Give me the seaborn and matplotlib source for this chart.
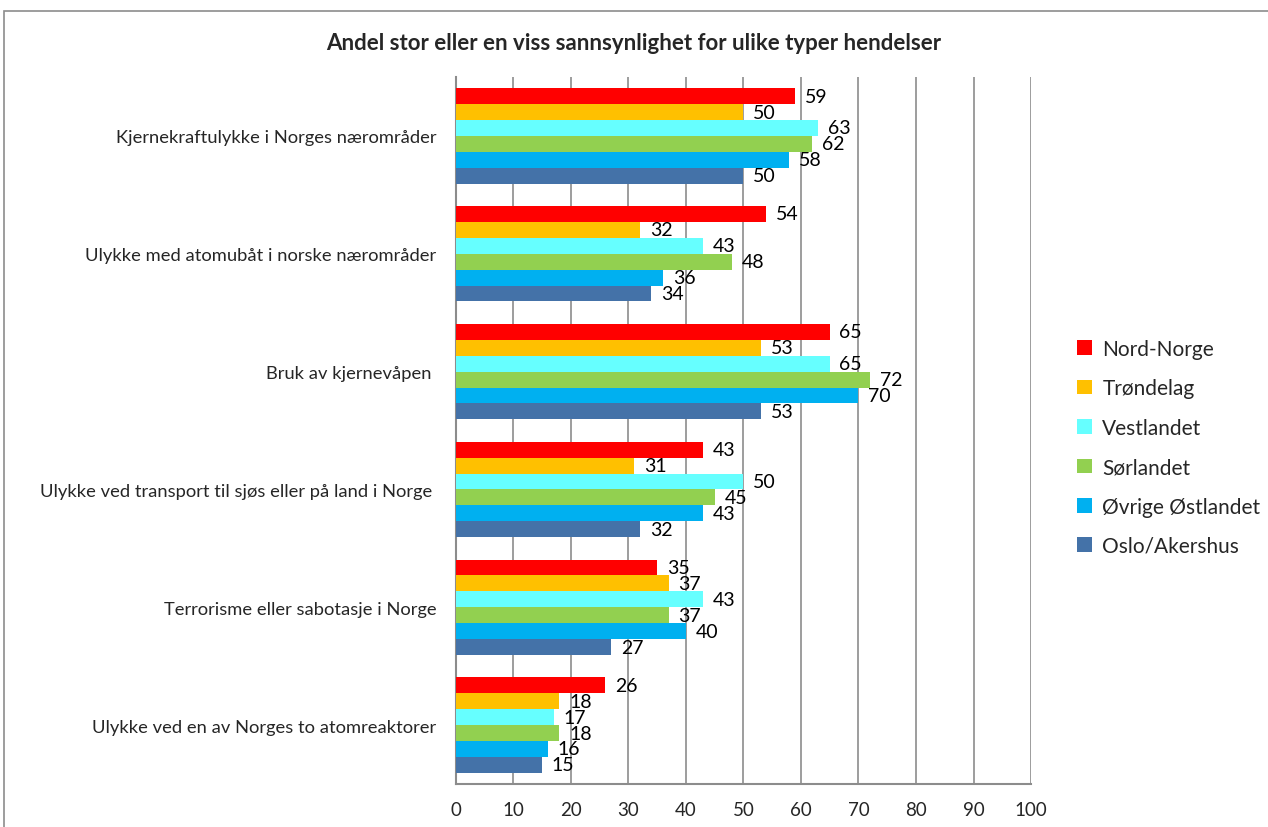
import matplotlib
matplotlib.use("Agg")
import matplotlib.pyplot as plt
from matplotlib.patches import Rectangle
import pandas as pd
import seaborn as sns

# ---------------------------------------------------------------------------
# Data
# ---------------------------------------------------------------------------
EVENTS = [
    "Kjernekraftulykke i Norges nærområder",
    "Ulykke med atomubåt i norske nærområder",
    "Bruk av kjernevåpen ",
    "Ulykke ved transport til sjøs eller på land i Norge ",
    "Terrorisme eller sabotasje i Norge",
    "Ulykke ved en av Norges to atomreaktorer",
]
REGIONS = ["Nord-Norge", "Trøndelag", "Vestlandet", "Sørlandet",
           "Øvrige Østlandet", "Oslo/Akershus"]

nord_norge = [59, 54, 65, 43, 35, 26]
trondelag = [50, 32, 53, 31, 37, 18]
vestlandet = [63, 43, 65, 50, 43, 17]
sorlandet = [62, 48, 72, 45, 37, 18]
ovrige_ostlandet = [58, 36, 70, 43, 40, 16]
oslo_akershus = [50, 34, 53, 32, 27, 15]

COLORS = ["#FF0000", "#FFC000", "#66FFFF", "#92D050", "#00B0F0", "#4472A8"]

series = [nord_norge, trondelag, vestlandet, sorlandet,
          ovrige_ostlandet, oslo_akershus]
rows = []
for region, vals in zip(REGIONS, series):
    for event, v in zip(EVENTS, vals):
        rows.append({"event": event, "region": region, "value": v})
df = pd.DataFrame(rows)

# ---------------------------------------------------------------------------
# Plot
# ---------------------------------------------------------------------------
sns.set_style("white")
plt.rcParams["font.family"] = ["Lato", "DejaVu Sans"]

fig = plt.figure(figsize=(12.68, 8.28), dpi=100)
ax = fig.add_axes([0.3596, 0.0519, 0.8131 - 0.3596, 0.9058 - 0.0519])

sns.barplot(
    data=df, x="value", y="event", hue="region",
    order=EVENTS, hue_order=REGIONS, palette=COLORS,
    saturation=1, width=0.81, gap=0, errorbar=None, ax=ax, zorder=3,
    linewidth=0,
)

for cont in ax.containers:
    ax.bar_label(cont, fmt="%d", padding=7, fontsize=14, color="black")

ax.set_xlim(0, 100)
ax.set_ylim(len(EVENTS) - 0.5, -0.5)
ax.set_xticks(range(0, 101, 10))
ax.xaxis.grid(True, color="#8c8c8c", linewidth=1.2, zorder=0)
ax.set_axisbelow(True)
ax.tick_params(axis="x", length=0, pad=12, labelsize=13.5)
ax.tick_params(axis="y", length=0, pad=14, labelsize=13.2)
ax.set_xlabel("")
ax.set_ylabel("")
for side in ["top", "right"]:
    ax.spines[side].set_visible(False)
for side in ["left", "bottom"]:
    ax.spines[side].set_color("#8c8c8c")
    ax.spines[side].set_linewidth(1.5)

ax.legend(
    title=None, frameon=False, loc="center left",
    bbox_to_anchor=(1.048, 0.476), fontsize=15,
    handlelength=0.7, handleheight=0.7, handletextpad=0.5,
    labelspacing=0.93,
)

fig.text(0.5, 0.948, "Andel stor eller en viss sannsynlighet for ulike typer hendelser",
         ha="center", va="center", fontsize=16, fontweight="bold")

# outer chart frame (cropped at right/bottom)
fig.patches.append(Rectangle((4 / 1268, -0.05), 1.2, 1 - 12 / 828 + 0.05,
                             transform=fig.transFigure, fill=False,
                             edgecolor="#8c8c8c", linewidth=1.2))

fig.savefig("out.png", dpi=100)
